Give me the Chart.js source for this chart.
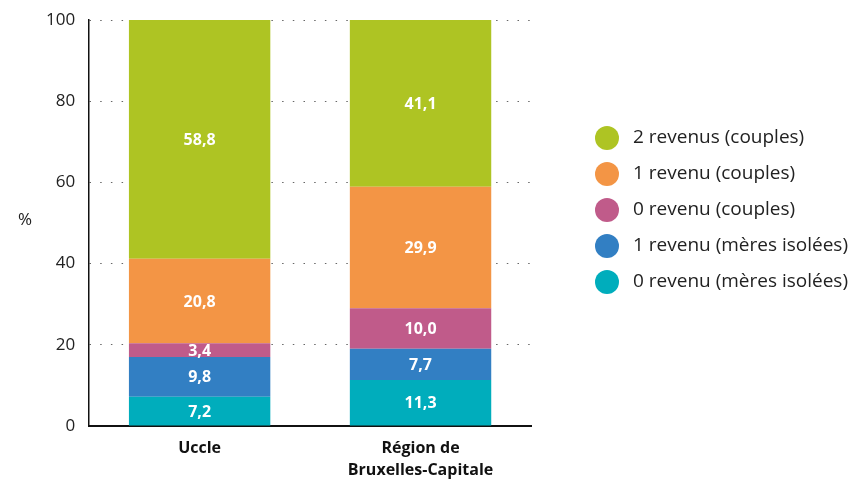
<!DOCTYPE html>
<html>
<head>
<meta charset="utf-8">
<script src="https://cdn.jsdelivr.net/npm/chart.js@4"></script>
<style>
  html, body { margin: 0; padding: 0; background: #fff; }
  #wrap { width: 851px; height: 482px; }
</style>
</head>
<body>
<div id="wrap"><canvas id="chartRevenus" width="851" height="482"></canvas></div>
<script>
const categories = ["Uccle", ["Région de", "Bruxelles-Capitale"]];
const seriesNames = [
  "0 revenu (mères isolées)",
  "1 revenu (mères isolées)",
  "0 revenu (couples)",
  "1 revenu (couples)",
  "2 revenus (couples)"
];
const seriesColors = ["#00adbc", "#327fc3", "#c05b8a", "#f39545", "#aec423"];
const zeroMeresIsolees = [7.2, 11.3];
const unMeresIsolees = [9.8, 7.7];
const zeroCouples = [3.4, 10.0];
const unCouples = [20.8, 29.9];
const deuxCouples = [58.8, 41.1];
const yTicks = [0, 20, 40, 60, 80, 100];

const seriesValues = [zeroMeresIsolees, unMeresIsolees, zeroCouples, unCouples, deuxCouples];
const FONT = "'Open Sans', 'DejaVu Sans', sans-serif";

// white value labels inside each segment
const valueLabels = {
  id: "valueLabels",
  afterDatasetsDraw(chart) {
    const ctx = chart.ctx;
    ctx.save();
    ctx.fillStyle = "#ffffff";
    ctx.font = "bold 16px " + FONT;
    ctx.textAlign = "center";
    ctx.textBaseline = "middle";
    chart.data.datasets.forEach(function (ds, i) {
      chart.getDatasetMeta(i).data.forEach(function (bar, j) {
        const txt = ds.data[j].toFixed(1).replace(".", ",");
        ctx.fillText(txt, bar.x, (bar.y + bar.base) / 2 + 1);
      });
    });
    ctx.restore();
  }
};

// legend on the right + "%" axis title
const sideLegend = {
  id: "sideLegend",
  afterDraw(chart) {
    const ctx = chart.ctx;
    ctx.save();
    ctx.textBaseline = "middle";
    ctx.font = "19px " + FONT;
    const n = chart.data.datasets.length;
    for (let k = 0; k < n; k++) {
      const ds = chart.data.datasets[n - 1 - k];
      const cy = 138 + k * 36;
      ctx.beginPath();
      ctx.arc(607, cy, 12, 0, Math.PI * 2);
      ctx.fillStyle = ds.backgroundColor;
      ctx.fill();
      ctx.fillStyle = "#222";
      ctx.textAlign = "left";
      ctx.fillText(ds.label, 633, cy);
    }
    ctx.font = "17px " + FONT;
    ctx.textAlign = "center";
    ctx.fillStyle = "#222";
    ctx.fillText("%", 25, 220);
    ctx.restore();
  }
};

document.addEventListener("DOMContentLoaded", function () {
  const canvas = document.getElementById("chartRevenus");

  new Chart(canvas, {
    type: "bar",
    data: {
      labels: categories,
      datasets: seriesNames.map(function (name, i) {
        return {
          label: name,
          data: seriesValues[i],
          backgroundColor: seriesColors[i],
          borderWidth: 0,
          barPercentage: 0.64,
          categoryPercentage: 1
        };
      })
    },
    options: {
      responsive: false,
      animation: false,
      layout: { padding: { top: 20, right: 320, bottom: 0, left: 32 } },
      plugins: {
        legend: { display: false },
        tooltip: { enabled: false }
      },
      scales: {
        x: {
          stacked: true,
          grid: { display: false },
          border: { display: true, color: "#111", width: 2 },
          afterFit: function (scale) { scale.height = 56; },
          ticks: {
            color: "#111",
            padding: 4,
            font: { family: FONT, size: 16, weight: "bold", lineHeight: 1.35 }
          }
        },
        y: {
          stacked: true,
          min: 0,
          max: 100,
          afterBuildTicks: function (scale) {
            scale.ticks = yTicks.map(function (v) { return { value: v }; });
          },
          afterFit: function (scale) { scale.paddingTop = 0; },
          grid: {
            color: "#666",
            lineWidth: 1,
            drawTicks: false
          },
          border: { display: true, color: "#111", width: 1.5, dash: [1.5, 9.2] },
          ticks: {
            color: "#222",
            padding: 14,
            font: { family: FONT, size: 17 }
          }
        }
      }
    },
    plugins: [valueLabels, sideLegend]
  });
});
</script>
</body>
</html>
